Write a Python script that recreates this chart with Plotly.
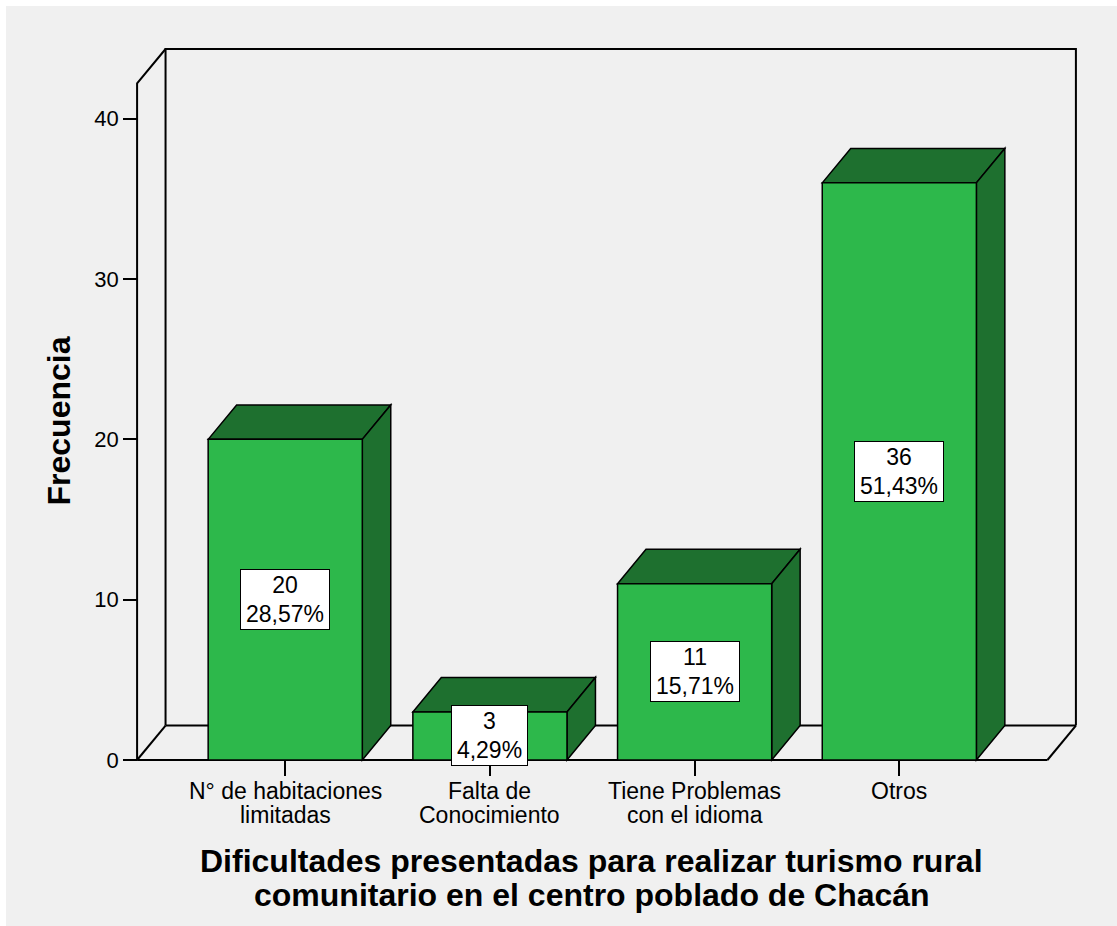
import plotly.graph_objects as go

# Data
categories = [
    "N° de habitaciones\nlimitadas",
    "Falta de\nConocimiento",
    "Tiene Problemas\ncon el idioma",
    "Otros",
]
counts = [20, 3, 11, 36]
y_ticks = [0, 10, 20, 30, 40]
y_title = "Frecuencia"
x_title = [
    "Dificultades presentadas para realizar turismo rural",
    "comunitario en el centro poblado de Chacán",
]

# Style / geometry
FONT = "Arial, Liberation Sans, sans-serif"
FRONT = "#2DB84B"
DARK = "#1E702F"
BG = "#F0F0F0"
W, H = 1117, 926
M_L, M_R, M_T, M_B = 133, 37, 45, 162
BAR_W = 0.753          # bar width in category units
X_EDGE = 0.7237        # floor extends this far beyond first/last category centre
DEPTH_X = 0.139        # 3-D depth, category units
DEPTH_Y = 2.15         # 3-D depth, value units
WALL_TOP = 42.2        # height of the front edge of the side wall
X_PAD, Y_PAD = 0.02, 0.25

n = len(counts)
total = sum(counts)
pcts = [c / total * 100 for c in counts]

x0, x1 = -X_EDGE - X_PAD, (n - 1) + X_EDGE + DEPTH_X + X_PAD
y0, y1 = -Y_PAD, WALL_TOP + DEPTH_Y + Y_PAD
xL, xR = -X_EDGE, (n - 1) + X_EDGE

fig = go.Figure(
    go.Bar(
        x=list(range(n)),
        y=counts,
        width=BAR_W,
        marker=dict(color=FRONT, line=dict(color="black", width=1.5)),
        hoverinfo="skip",
    )
)


def path(points):
    return "M " + " L ".join(f"{px},{py}" for px, py in points)


shapes = []
wall_line = dict(color="black", width=2)
# back wall, floor and side wall outline
for pts in [
    [(xL + DEPTH_X, DEPTH_Y), (xL + DEPTH_X, WALL_TOP + DEPTH_Y),
     (xR + DEPTH_X, WALL_TOP + DEPTH_Y), (xR + DEPTH_X, DEPTH_Y)],
    [(xL + DEPTH_X, DEPTH_Y), (xR + DEPTH_X, DEPTH_Y)],
    [(xL, 0), (xR, 0)],
    [(xL, 0), (xL + DEPTH_X, DEPTH_Y)],
    [(xR, 0), (xR + DEPTH_X, DEPTH_Y)],
    [(xL, 0), (xL, WALL_TOP), (xL + DEPTH_X, WALL_TOP + DEPTH_Y)],
]:
    shapes.append(dict(type="path", xref="x", yref="y", path=path(pts),
                       line=wall_line, layer="below"))

# top and side faces of each bar
for i, v in enumerate(counts):
    a, b = i - BAR_W / 2, i + BAR_W / 2
    top = [(a, v), (a + DEPTH_X, v + DEPTH_Y), (b + DEPTH_X, v + DEPTH_Y), (b, v)]
    side = [(b, 0), (b + DEPTH_X, DEPTH_Y), (b + DEPTH_X, v + DEPTH_Y), (b, v)]
    for pts in (top, side):
        shapes.append(dict(type="path", xref="x", yref="y", path=path(pts) + " Z",
                           fillcolor=DARK, line=dict(color="black", width=1.5),
                           layer="below"))

# background strips along the top and left edge
pw, ph = W - M_L - M_R, H - M_T - M_B
shapes.append(dict(type="rect", xref="paper", yref="paper",
                   x0=-M_L / pw, x1=(W - M_L) / pw,
                   y0=(H - M_B - 6) / ph, y1=(H - M_B) / ph,
                   fillcolor="white", line=dict(width=0), layer="below"))
shapes.append(dict(type="rect", xref="paper", yref="paper",
                   x0=-M_L / pw, x1=(6 - M_L) / pw,
                   y0=-M_B / ph, y1=(H - M_B) / ph,
                   fillcolor="white", line=dict(width=0), layer="below"))

annotations = []
# value labels: count and percentage in a white box at mid-height of each bar
for i, (c, p) in enumerate(zip(counts, pcts)):
    pct_txt = f"{p:.2f}".replace(".", ",") + "%"
    annotations.append(dict(
        x=i, y=c / 2, xref="x", yref="y", text=f"{c}<br>{pct_txt}", showarrow=False,
        font=dict(family=FONT, size=23, color="black"),
        bgcolor="white", bordercolor="black", borderwidth=1, borderpad=0,
        width=13 * len(pct_txt) + 10, height=59,
        xanchor="center", yanchor="middle"))

# category labels
for i, cat in enumerate(categories):
    for k, line in enumerate(cat.split("\n")):
        annotations.append(dict(
            x=i, y=0, xref="x", yref="y", text=line, showarrow=False,
            font=dict(family=FONT, size=23, color="black"),
            xanchor="center", yanchor="top", yshift=-16 - 24 * k))

# axis titles
for k, line in enumerate(x_title):
    annotations.append(dict(
        x=0.5, y=0, xref="paper", yref="y", text=f"<b>{line}</b>", showarrow=False,
        font=dict(family=FONT, size=32, color="black"), borderpad=0,
        xanchor="center", yanchor="top", xshift=-15, yshift=-82 - 34 * k))
annotations.append(dict(
    x=0, y=0.5, xref="paper", yref="paper", text=f"<b>{y_title}</b>", showarrow=False,
    font=dict(family=FONT, size=32, color="black"), textangle=-90,
    xanchor="center", yanchor="middle", xshift=-75, yshift=-17))

fig.update_layout(
    width=W, height=H,
    margin=dict(l=M_L, r=M_R, t=M_T, b=M_B),
    paper_bgcolor=BG, plot_bgcolor="rgba(0,0,0,0)",
    showlegend=False,
    shapes=shapes, annotations=annotations,
    font=dict(family=FONT, color="black"),
    xaxis=dict(range=[x0, x1], showgrid=False, zeroline=False, showline=False,
               tickvals=list(range(n)), ticks="outside", ticklen=15, tickwidth=1.5,
               tickcolor="black", showticklabels=False,
               anchor="free", position=(0 - y0) / (y1 - y0)),
    yaxis=dict(range=[y0, y1], showgrid=False, zeroline=False, showline=False,
               tickvals=y_ticks, ticks="outside", ticklen=14, tickwidth=1.5,
               tickcolor="black", tickfont=dict(family=FONT, size=22, color="black"),
               anchor="free", position=(xL - x0) / (x1 - x0)),
)

fig.write_html("out.html")
